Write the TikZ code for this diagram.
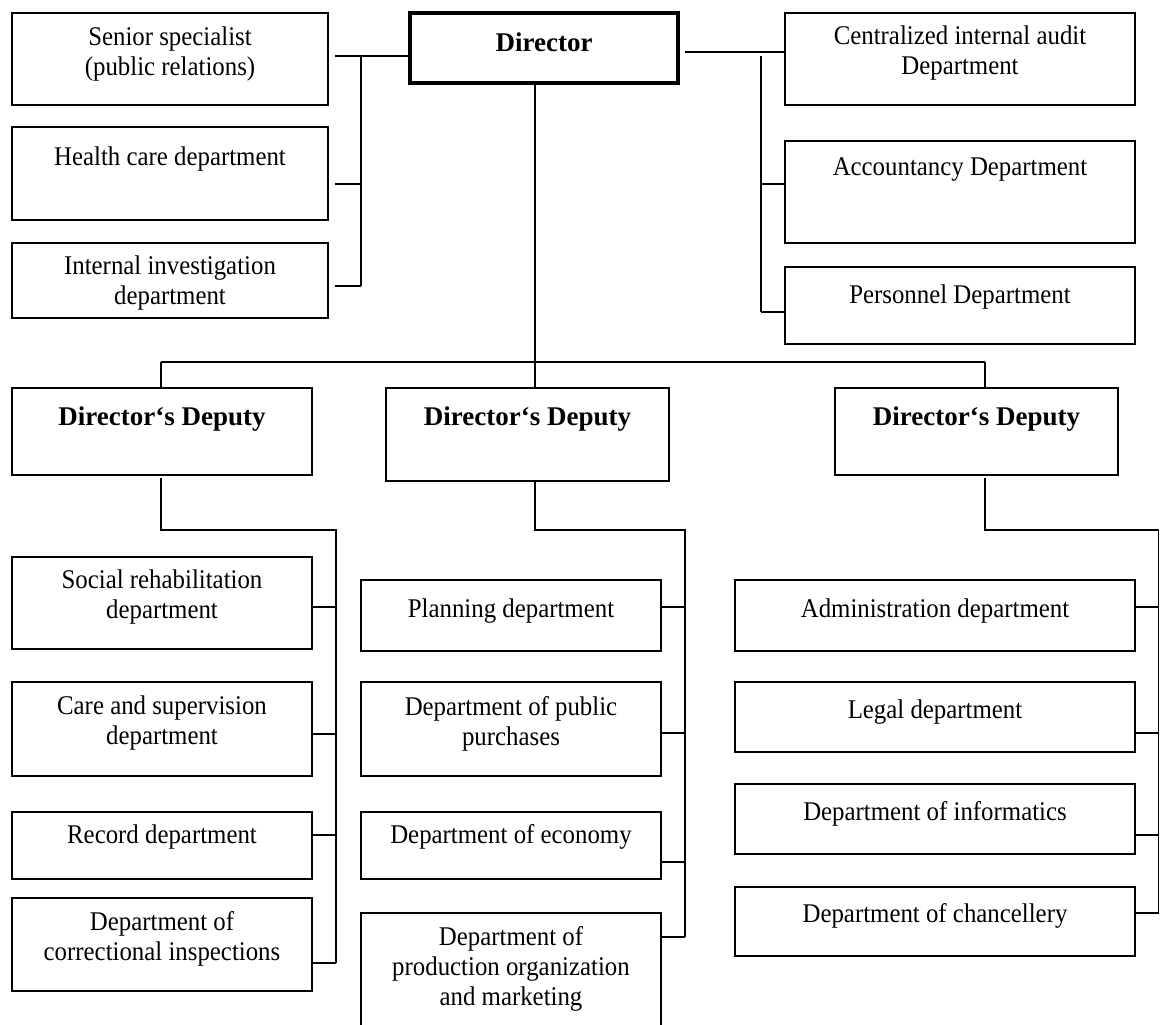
\documentclass[tikz,border=0pt]{standalone}
\usepackage{fontspec}
\setmainfont{Liberation Serif}
\newfontfamily\bodyfont{Liberation Serif}[FakeStretch=0.92]

\tikzset{
  box/.style={draw, line width=1.6pt, inner sep=0pt, outer sep=0pt, anchor=north west},
  chief/.style={box, line width=3.2pt},
  txt/.style={anchor=north, inner sep=0pt, outer sep=0pt, align=center,
    font=\bodyfont\fontsize{27}{30}\selectfont, execute at begin node=\strut},
  head/.style={txt, font=\bfseries\fontsize{27}{30}\selectfont},
  link/.style={line width=1.6pt},
}

\begin{document}
\begin{tikzpicture}[x=1pt, y=-1pt]
\useasboundingbox (0,0) rectangle (1160,1025);
\clip (0,0) rectangle (1160,1025);

% ---- top level ----
\node[chief, minimum width=268pt, minimum height=70pt] (dir) at (410,13) {};
\node[head] (dir-t) at ([yshift=-18pt]dir.north) {Director};

\node[box, minimum width=316pt, minimum height=92pt] (sen) at (12,13) {};
\node[txt] (sen-t) at ([yshift=-14pt]sen.north) {Senior specialist\\\strut(public relations)};
\node[box, minimum width=316pt, minimum height=93pt] (hea) at (12,127) {};
\node[txt] (hea-t) at ([yshift=-17pt]hea.north) {Health care department};
\node[box, minimum width=316pt, minimum height=75pt] (inv) at (12,243) {};
\node[txt] (inv-t) at ([yshift=-13pt]inv.north) {Internal investigation\\\strut department};

\node[box, minimum width=350pt, minimum height=92pt] (aud) at (785,13) {};
\node[txt] (aud-t) at ([yshift=-13pt]aud.north) {Centralized internal audit\\\strut Department};
\node[box, minimum width=350pt, minimum height=102pt] (acc) at (785,141) {};
\node[txt] (acc-t) at ([yshift=-13pt]acc.north) {Accountancy Department};
\node[box, minimum width=350pt, minimum height=77pt] (per) at (785,267) {};
\node[txt] (per-t) at ([yshift=-15pt]per.north) {Personnel Department};

% ---- deputies ----
\node[box, minimum width=300pt, minimum height=87pt] (dep1) at (12,388) {};
\node[head] (dep1-t) at ([yshift=-16pt]dep1.north) {Director‘s Deputy};
\node[box, minimum width=283pt, minimum height=93pt] (dep2) at (386,388) {};
\node[head] (dep2-t) at ([yshift=-16pt]dep2.north) {Director‘s Deputy};
\node[box, minimum width=283pt, minimum height=87pt] (dep3) at (835,388) {};
\node[head] (dep3-t) at ([yshift=-16pt]dep3.north) {Director‘s Deputy};

% ---- first deputy's departments ----
\node[box, minimum width=300pt, minimum height=92pt] (soc) at (12,557) {};
\node[txt] (soc-t) at ([yshift=-13pt]soc.north) {Social rehabilitation\\\strut department};
\node[box, minimum width=300pt, minimum height=94pt] (car) at (12,682) {};
\node[txt] (car-t) at ([yshift=-14pt]car.north) {Care and supervision\\\strut department};
\node[box, minimum width=300pt, minimum height=67pt] (rec) at (12,812) {};
\node[txt] (rec-t) at ([yshift=-10pt]rec.north) {Record department};
\node[box, minimum width=300pt, minimum height=93pt] (cor) at (12,898) {};
\node[txt] (cor-t) at ([yshift=-13pt]cor.north) {Department of\\\strut correctional inspections};

% ---- second deputy's departments ----
\node[box, minimum width=300pt, minimum height=71pt] (pla) at (361,580) {};
\node[txt] (pla-t) at ([yshift=-16pt]pla.north) {Planning department};
\node[box, minimum width=300pt, minimum height=94pt] (pur) at (361,682) {};
\node[txt] (pur-t) at ([yshift=-14pt]pur.north) {Department of public\\\strut purchases};
\node[box, minimum width=300pt, minimum height=67pt] (eco) at (361,812) {};
\node[txt] (eco-t) at ([yshift=-10pt]eco.north) {Department of economy};
\node[box, minimum width=300pt, minimum height=130pt] (pro) at (361,913) {};
\node[txt] (pro-t) at ([yshift=-13pt]pro.north) {Department of\\\strut production organization\\\strut and marketing};

% ---- third deputy's departments ----
\node[box, minimum width=400pt, minimum height=71pt] (adm) at (735,580) {};
\node[txt] (adm-t) at ([yshift=-16pt]adm.north) {Administration department};
\node[box, minimum width=400pt, minimum height=70pt] (leg) at (735,682) {};
\node[txt] (leg-t) at ([yshift=-15pt]leg.north) {Legal department};
\node[box, minimum width=400pt, minimum height=70pt] (inf) at (735,784) {};
\node[txt] (inf-t) at ([yshift=-15pt]inf.north) {Department of informatics};
\node[box, minimum width=400pt, minimum height=69pt] (cha) at (735,887) {};
\node[txt] (cha-t) at ([yshift=-14pt]cha.north) {Department of chancellery};

% ---- junction points ----
\coordinate (LT1) at (361,56);
\coordinate (LT2) at (361,184);
\coordinate (LT3) at (361,286);
\coordinate (RT0) at (761,52);
\coordinate (RB1) at (761,56);
\coordinate (RB2) at (761,184);
\coordinate (RB3) at (761,312);
\coordinate (TB) at (535,362);
\coordinate (D1) at (161,362);
\coordinate (D3) at (985,362);
\coordinate (E1) at (161,530);
\coordinate (F1) at (336,530);
\coordinate (L1) at (336,607);
\coordinate (L2) at (336,734);
\coordinate (L3) at (336,835);
\coordinate (L4) at (336,963);
\coordinate (E2) at (535,530);
\coordinate (F2) at (685,530);
\coordinate (M1) at (685,607);
\coordinate (M2) at (685,733);
\coordinate (M3) at (685,862);
\coordinate (M4) at (685,937);
\coordinate (E3) at (985,530);
\coordinate (F3) at (1158.5,530);
\coordinate (R1) at (1158.5,607);
\coordinate (R2) at (1158.5,733);
\coordinate (R3) at (1158.5,835);
\coordinate (R4) at (1158.5,913);

% ---- staff units beside the director ----
\draw[link] (dir.west |- LT1) -- ([xshift=7pt]sen.east |- LT1);
\draw[link] (LT1) -- (LT3);
\draw[link] ([xshift=7pt]hea.east |- LT2) -- (LT2);
\draw[link] ([xshift=7pt]inv.east |- LT3) -- (LT3);

\draw[link] ([xshift=7pt]dir.east |- RT0) -- (aud.west |- RT0);
\draw[link] (RB1) -- (RB3);
\draw[link] (RB2) -- (acc.west |- RB2);
\draw[link] (RB3) -- (per.west |- RB3);

% ---- director to deputies ----
\draw[link] (dir.south -| TB) -- (TB);
\draw[link] (D1) -- (D3);
\draw[link] (D1) -- (dep1.north -| D1);
\draw[link] (TB) -- (dep2.north -| TB);
\draw[link] (D3) -- (dep3.north -| D3);

% ---- deputies to departments ----
\draw[link] ([yshift=-3pt]dep1.south -| E1) -- (E1) -- (F1) -- (L4);
\draw[link] (soc.east |- L1) -- (L1);
\draw[link] (car.east |- L2) -- (L2);
\draw[link] (rec.east |- L3) -- (L3);
\draw[link] (cor.east |- L4) -- (L4);

\draw[link] (dep2.south -| E2) -- (E2) -- (F2) -- (M4);
\draw[link] (pla.east |- M1) -- (M1);
\draw[link] (pur.east |- M2) -- (M2);
\draw[link] (eco.east |- M3) -- (M3);
\draw[link] (pro.east |- M4) -- (M4);

\draw[link] ([yshift=-3pt]dep3.south -| E3) -- (E3) -- (F3) -- (R4);
\draw[link] (adm.east |- R1) -- (R1);
\draw[link] (leg.east |- R2) -- (R2);
\draw[link] (inf.east |- R3) -- (R3);
\draw[link] (cha.east |- R4) -- (R4);
\end{tikzpicture}
\end{document}
